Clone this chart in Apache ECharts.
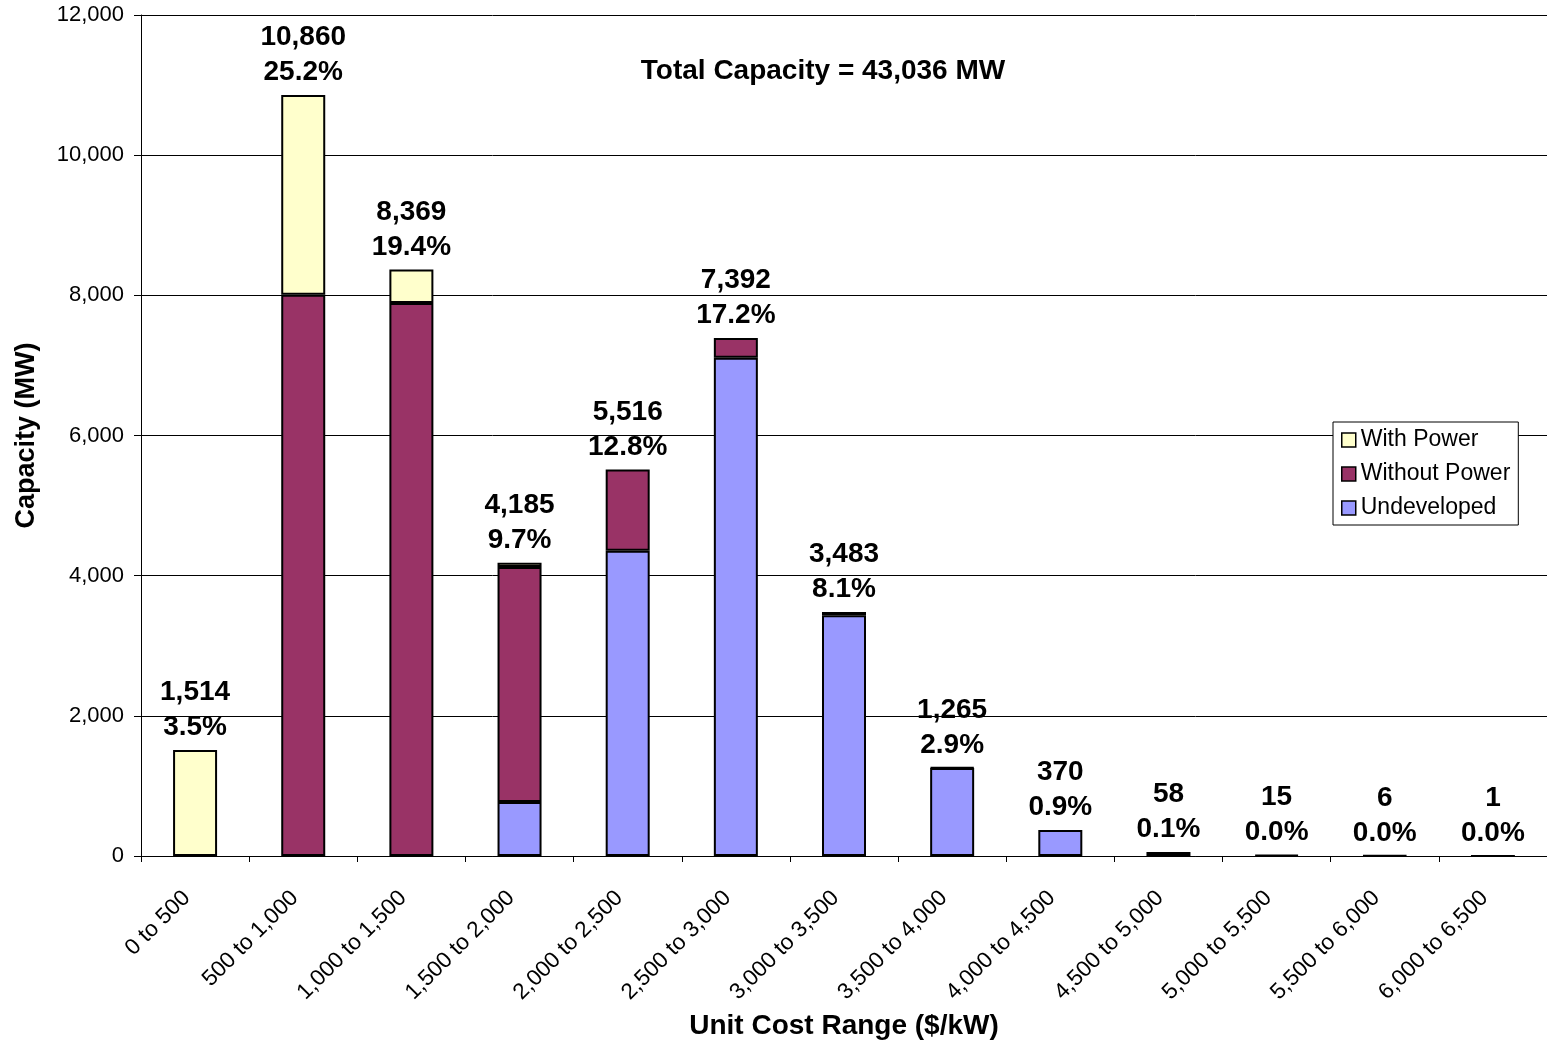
<!DOCTYPE html>
<html><head><meta charset="utf-8">
<script src="https://cdn.jsdelivr.net/npm/echarts@6/dist/echarts.min.js"></script>
<style>html,body{margin:0;padding:0;background:#fff}#c{width:1547px;height:1045px}</style>
</head><body><div id="c"></div>
<script>
const categories = ['0 to 500','500 to 1,000','1,000 to 1,500','1,500 to 2,000','2,000 to 2,500','2,500 to 3,000','3,000 to 3,500','3,500 to 4,000','4,000 to 4,500','4,500 to 5,000','5,000 to 5,500','5,500 to 6,000','6,000 to 6,500'];
const undeveloped = [0,0,0,771,4357,7110,3435,1255,370,58,15,6,1];
const withoutPower = [0,8010,7890,3354,1159,282,48,10,0,0,0,0,0];
const withPower = [1514,2850,479,60,0,0,0,0,0,0,0,0,0];
const totals = [1514,10860,8369,4185,5516,7392,3483,1265,370,58,15,6,1];
const shares = ['3.5%','25.2%','19.4%','9.7%','12.8%','17.2%','8.1%','2.9%','0.9%','0.1%','0.0%','0.0%','0.0%'];
const titleText = 'Total Capacity = 43,036 MW';

const FONT = 'Arial, "Liberation Sans", sans-serif';
const fmt = v => v.toLocaleString('en-US');
const z = a => a.map(v => v === 0 ? '-' : v);

const chart = echarts.init(document.getElementById('c'));
const barBase = {type:'bar', stack:'s', barWidth:44};
chart.setOption({
  animation:false,
  textStyle:{fontFamily:FONT},
  grid:{left:141, right:0, top:15, bottom:176},
  graphic:[{type:'text', x:823, y:71, style:{text:titleText, font:'bold 28px '+FONT, fill:'#000', textAlign:'center', textVerticalAlign:'middle'}}],
  legend:{
    data:['With Power','Without Power','Undeveloped'],
    orient:'vertical', left:1333, top:422,
    backgroundColor:'#fff', borderColor:'#000', borderWidth:1,
    padding:[6,8,5,8], itemGap:10, itemWidth:14, itemHeight:14, icon:'rect',
    itemStyle:{borderWidth:1.5, borderColor:'#000'},
    textStyle:{fontSize:23, fontFamily:FONT, color:'#000', padding:[0,0,0,0], lineHeight:24}
  },
  xAxis:{
    type:'category', data:categories,
    name:'Unit Cost Range ($/kW)', nameLocation:'middle', nameGap:156,
    nameTextStyle:{fontSize:28, fontWeight:'bold', color:'#000', fontFamily:FONT},
    axisLine:{lineStyle:{color:'#000', width:1}},
    axisTick:{show:true, length:6, lineStyle:{color:'#000'}},
    axisLabel:{rotate:45, fontSize:22.5, color:'#000', margin:30, padding:[0,12,0,0], fontFamily:FONT, interval:0}
  },
  yAxis:{
    type:'value', min:0, max:12000, interval:2000,
    name:'Capacity (MW)', nameLocation:'middle', nameGap:101,
    nameTextStyle:{fontSize:27, fontWeight:'bold', color:'#000', fontFamily:FONT},
    axisLine:{show:true, lineStyle:{color:'#000', width:1}},
    axisTick:{show:true, length:7, lineStyle:{color:'#000'}},
    axisLabel:{fontSize:22, color:'#000', margin:17, fontFamily:FONT, formatter:v=>fmt(v)},
    splitLine:{lineStyle:{color:'#000', width:1}}
  },
  series:[
    Object.assign({}, barBase, {name:'Undeveloped', data:z(undeveloped), itemStyle:{color:'#9999FF', borderColor:'#000', borderWidth:2}}),
    Object.assign({}, barBase, {name:'Without Power', data:z(withoutPower), itemStyle:{color:'#993366', borderColor:'#000', borderWidth:2}}),
    Object.assign({}, barBase, {name:'With Power', data:z(withPower), itemStyle:{color:'#FFFFCC', borderColor:'#000', borderWidth:2}}),
    {type:'scatter', name:'totals', data:totals, symbolSize:0, silent:true, itemStyle:{opacity:1},
     label:{show:true, position:'top', distance:5, fontSize:28, fontWeight:'bold', color:'#000', opacity:1, lineHeight:35, fontFamily:FONT,
       formatter:p => fmt(totals[p.dataIndex]) + '\n' + shares[p.dataIndex]}}
  ]
});
</script></body></html>
